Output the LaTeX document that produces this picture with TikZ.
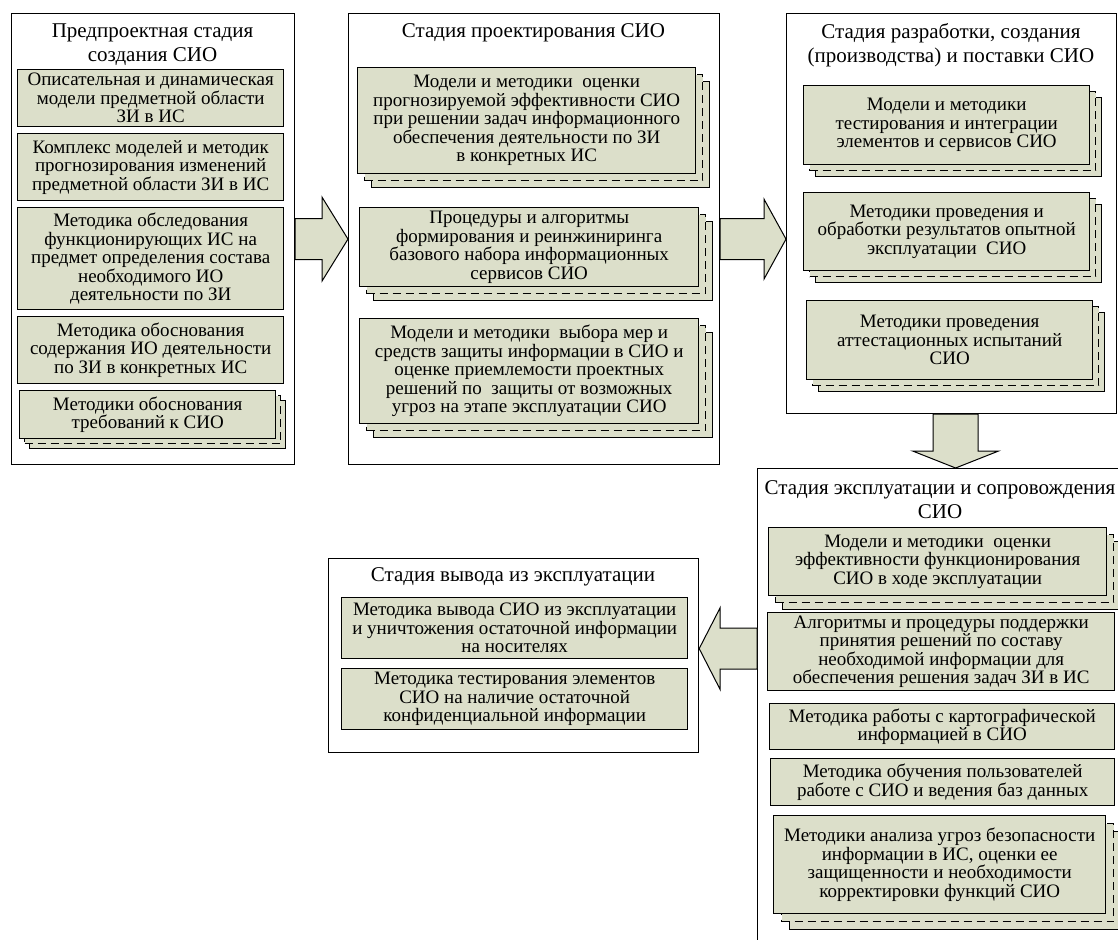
\documentclass[tikz,border=0pt]{standalone}
\usepackage{fontspec}
\setmainfont{Liberation Serif}
\usetikzlibrary{calc,shadows}
\definecolor{boxfill}{RGB}{220,223,202}
\newcommand\boxfont{\fontsize{19}{18.5}\selectfont}
\newcommand\ttlfont{\fontsize{21}{24}\selectfont}
\tikzset{
  frame/.style={draw, line width=1.2pt, fill=white, anchor=north west, inner sep=0pt},
  ttl/.style={align=center, font=\ttlfont, inner sep=0pt},
  box/.style={draw, line width=1.4pt, fill=boxfill, anchor=north west, align=center, inner sep=1pt, font=\boxfont},
  stack/.style={box,
    general shadow={shadow xshift=2*#1, shadow yshift=-2*#1, fill=boxfill, draw=black, line width=1.4pt, solid},
    general shadow={shadow xshift=#1, shadow yshift=-#1, fill=boxfill, draw=black, line width=1.4pt, dash pattern=on 8pt off 5pt}},
  stack/.default=7pt,
  barrow/.style={draw, line width=1pt, fill=boxfill, line join=miter}
}
\begin{document}
\begin{tikzpicture}[x=1pt,y=-1pt]
\useasboundingbox (0,0) rectangle (1118,939);
\clip (0,0) rectangle (1118,939);
% frames
\node[frame, minimum width=283pt, minimum height=451pt] (f1) at (11,13) {};
\node[frame, minimum width=371pt, minimum height=451pt] (f2) at (348,13) {};
\node[frame, minimum width=330pt, minimum height=400pt] (f3) at (786,13) {};
\node[frame, minimum width=380pt, minimum height=500pt] (f4) at (757,468) {};
\node[frame, minimum width=370pt, minimum height=194pt] (f5) at (328,558) {};
% titles
\node[ttl] (t1) at (152.5,45) {Предпроектная стадия\\создания СИО};
\node[ttl] (t2) at (533.5,33) {Стадия проектирования СИО};
\node[ttl] (t3) at (951,45) {Стадия разработки, создания\\(производства) и поставки СИО};
\node[ttl] (t4) at (940,500) {Стадия эксплуатации и сопровождения\\СИО};
\node[ttl] (t5) at (513,577) {Стадия вывода из эксплуатации};
% frame 1
\node[box, minimum width=266pt, minimum height=57pt] (b11) at (17,69) {Описательная и динамическая\\модели предметной области\\ЗИ в ИС};
\node[box, minimum width=266pt, minimum height=67pt] (b12) at (17,133) {Комплекс моделей и методик\\прогнозирования изменений\\предметной области ЗИ в ИС};
\node[box, minimum width=266pt, minimum height=102pt] (b13) at (17,207) {Методика обследования\\функционирующих ИС на\\предмет определения состава\\необходимого ИО\\деятельности по ЗИ};
\node[box, minimum width=266pt, minimum height=67pt] (b14) at (17,316) {Методика обоснования\\содержания ИО деятельности\\по ЗИ в конкретных ИС};
\node[stack=5pt, minimum width=256pt, minimum height=48pt] (b15) at (19,390) {Методики обоснования\\требований к СИО};
% frame 2
\node[stack, minimum width=338pt, minimum height=106pt] (b21) at (357,67) {Модели и методики \ оценки\\прогнозируемой эффективности СИО\\при решении задач информационного\\обеспечения деятельности по ЗИ\\в конкретных ИС};
\node[stack, minimum width=339pt, minimum height=79pt] (b22) at (359,207) {Процедуры и алгоритмы\\формирования и реинжиниринга\\базового набора информационных\\сервисов СИО};
\node[stack, minimum width=339pt, minimum height=105pt] (b23) at (359,318) {Модели и методики \ выбора мер и\\средств защиты информации в СИО и\\оценке приемлемости проектных\\решений по \ защиты от возможных\\угроз на этапе эксплуатации СИО};
% frame 3
\node[stack=6pt, minimum width=286pt, minimum height=79pt] (b31) at (803,85) {Модели и методики\\тестирования и интеграции\\элементов и сервисов СИО};
\node[stack=6pt, minimum width=286pt, minimum height=78pt] (b32) at (803,192) {Методики проведения и\\обработки результатов опытной\\эксплуатации \ СИО};
\node[stack=6pt, minimum width=286pt, minimum height=79pt] (b33) at (806,300) {Методики проведения\\аттестационных испытаний\\СИО};
% frame 4
\node[stack, minimum width=338pt, minimum height=68pt] (b41) at (768,527) {Модели и методики \ оценки\\эффективности функционирования\\СИО в ходе эксплуатации};
\node[box, minimum width=347pt, minimum height=78pt] (b42) at (767,612) {Алгоритмы и процедуры поддержки\\принятия решений по составу\\необходимой информации для\\обеспечения решения задач ЗИ в ИС};
\node[box, minimum width=345pt, minimum height=46pt] (b43) at (769,703) {Методика работы с картографической\\информацией в СИО};
\node[box, minimum width=344pt, minimum height=47pt] (b44) at (770,758) {Методика обучения пользователей\\работе с СИО и ведения баз данных};
\node[stack=8pt, minimum width=332pt, minimum height=98pt] (b45) at (773,815) {Методики анализа угроз безопасности\\информации в ИС, оценки ее\\защищенности и необходимости\\корректировки функций СИО};
% frame 5
\node[box, minimum width=346pt, minimum height=61pt] (b51) at (341,597) {Методика вывода СИО из эксплуатации\\и уничтожения остаточной информации\\на носителях};
\node[box, minimum width=346pt, minimum height=61pt] (b52) at (341,668) {Методика тестирования элементов\\СИО на наличие остаточной\\конфиденциальной информации};
% block arrows
\draw[barrow] ($(f1.east)+(0,-20.5)$) -- ($(f2.west)+(-26,-20.5)$) -- ($(f2.west)+(-26,-42)$) -- (f2.west)
  -- ($(f2.west)+(-26,42)$) -- ($(f2.west)+(-26,20.5)$) -- ($(f1.east)+(0,20.5)$) -- cycle;
\coordinate (a2e) at (f2.east -| f3.west);
\draw[barrow] ($(f2.east)+(0,-20.5)$) -- ($(a2e)+(-22,-20.5)$) -- ($(a2e)+(-22,-40)$) -- (a2e)
  -- ($(a2e)+(-22,40)$) -- ($(a2e)+(-22,20.5)$) -- ($(f2.east)+(0,20.5)$) -- cycle;
\coordinate (a3s) at ($(f3.south)+(4,0)$);
\coordinate (a3e) at (a3s |- f4.north);
\draw[barrow] ($(a3s)+(-22.5,0)$) -- ($(a3e)+(-22.5,-17)$) -- ($(a3e)+(-43,-17)$) -- (a3e)
  -- ($(a3e)+(43,-17)$) -- ($(a3e)+(22.5,-17)$) -- ($(a3s)+(22.5,0)$) -- cycle;
\coordinate (a4e) at ($(f5.east)+(0,-7)$);
\coordinate (a4s) at (a4e -| f4.west);
\draw[barrow] ($(a4s)+(0,-20.5)$) -- ($(a4e)+(21,-20.5)$) -- ($(a4e)+(21,-41)$) -- (a4e)
  -- ($(a4e)+(21,41)$) -- ($(a4e)+(21,20.5)$) -- ($(a4s)+(0,20.5)$) -- cycle;
\end{tikzpicture}
\end{document}
